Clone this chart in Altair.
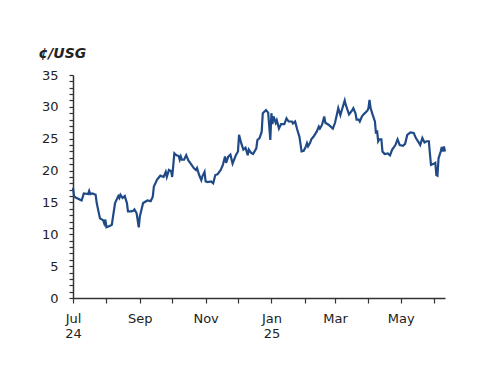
import altair as alt
import pandas as pd

dates = [
    "2024-07-01", "2024-07-02", "2024-07-03", "2024-07-09", "2024-07-11", "2024-07-15", "2024-07-16",
    "2024-07-17", "2024-07-19", "2024-07-22", "2024-07-23", "2024-07-26", "2024-07-29", "2024-07-30",
    "2024-07-31", "2024-08-01", "2024-08-04", "2024-08-06", "2024-08-09", "2024-08-12", "2024-08-13",
    "2024-08-14", "2024-08-16", "2024-08-18", "2024-08-20", "2024-08-21", "2024-08-24", "2024-08-26",
    "2024-08-27", "2024-08-29", "2024-08-31", "2024-09-01", "2024-09-04", "2024-09-08", "2024-09-11",
    "2024-09-13", "2024-09-14", "2024-09-17", "2024-09-20", "2024-09-23", "2024-09-25", "2024-09-26",
    "2024-09-28", "2024-09-30", "2024-10-01", "2024-10-03", "2024-10-05", "2024-10-07", "2024-10-08",
    "2024-10-09", "2024-10-10", "2024-10-12", "2024-10-14", "2024-10-16", "2024-10-19", "2024-10-21",
    "2024-10-23", "2024-10-24", "2024-10-26", "2024-10-28", "2024-10-29", "2024-10-31", "2024-11-01",
    "2024-11-03", "2024-11-06", "2024-11-08", "2024-11-10", "2024-11-12", "2024-11-15", "2024-11-17",
    "2024-11-19", "2024-11-20", "2024-11-22", "2024-11-24", "2024-11-26", "2024-11-29", "2024-12-01",
    "2024-12-02", "2024-12-04", "2024-12-06", "2024-12-08", "2024-12-10", "2024-12-11", "2024-12-13",
    "2024-12-15", "2024-12-18", "2024-12-19", "2024-12-21", "2024-12-23", "2024-12-24", "2024-12-27",
    "2024-12-29", "2024-12-31", "2025-01-01", "2025-01-02", "2025-01-03", "2025-01-05", "2025-01-06",
    "2025-01-08", "2025-01-10", "2025-01-13", "2025-01-15", "2025-01-17", "2025-01-20", "2025-01-21",
    "2025-01-23", "2025-01-25", "2025-01-27", "2025-01-29", "2025-01-31", "2025-02-02", "2025-02-03",
    "2025-02-04", "2025-02-06", "2025-02-07", "2025-02-09", "2025-02-12", "2025-02-14", "2025-02-15",
    "2025-02-17", "2025-02-19", "2025-02-20", "2025-02-23", "2025-02-25", "2025-02-27", "2025-03-01",
    "2025-03-03", "2025-03-04", "2025-03-06", "2025-03-07", "2025-03-10", "2025-03-11", "2025-03-14",
    "2025-03-17", "2025-03-18", "2025-03-20", "2025-03-21", "2025-03-23", "2025-03-24", "2025-03-26",
    "2025-03-28", "2025-03-31", "2025-04-01", "2025-04-02", "2025-04-03", "2025-04-05", "2025-04-07",
    "2025-04-08", "2025-04-09", "2025-04-10", "2025-04-11", "2025-04-13", "2025-04-14", "2025-04-16",
    "2025-04-19", "2025-04-21", "2025-04-23", "2025-04-26", "2025-04-28", "2025-04-30", "2025-05-03",
    "2025-05-05", "2025-05-07", "2025-05-10", "2025-05-13", "2025-05-15", "2025-05-17", "2025-05-19",
    "2025-05-21", "2025-05-23", "2025-05-25", "2025-05-27", "2025-05-28", "2025-05-29", "2025-06-01",
    "2025-06-02", "2025-06-03", "2025-06-04", "2025-06-05", "2025-06-07", "2025-06-08", "2025-06-09",
    "2025-06-10", "2025-06-11",
]

values = [
    17.3, 16.0, 15.8, 15.3, 16.4, 16.3, 16.8,
    16.3, 16.4, 16.2, 14.9, 12.5, 12.2, 11.7,
    12.3, 11.1, 11.3, 11.5, 14.9, 16.0, 15.7,
    16.2, 15.7, 16.0, 14.9, 13.6, 13.6, 13.7,
    13.9, 13.3, 11.1, 12.8, 14.9, 15.3, 15.2,
    15.9, 17.5, 18.6, 19.2, 19.0, 19.8, 19.0,
    20.1, 19.9, 19.0, 22.7, 22.4, 22.3, 21.7,
    22.2, 21.7, 21.7, 22.4, 21.6, 20.9, 20.4,
    20.1, 20.4, 19.3, 18.5, 19.1, 19.8, 18.3,
    18.2, 18.3, 18.0, 19.3, 19.4, 20.1, 20.9,
    22.2, 21.2, 22.2, 22.5, 21.1, 22.4, 23.0,
    25.6, 24.3, 23.3, 23.6, 22.4, 23.3, 22.8,
    22.6, 23.5, 24.8, 25.1, 26.1, 29.0, 29.5,
    29.1, 24.8, 29.0, 27.3, 28.5, 27.5, 27.9,
    26.6, 27.3, 27.3, 28.2, 27.7, 27.7, 27.4,
    27.7, 26.4, 25.3, 23.0, 23.1, 23.8, 24.3,
    23.8, 24.4, 24.9, 25.3, 26.1, 26.9, 26.6,
    27.2, 28.5, 27.5, 27.2, 26.9, 26.6, 27.5,
    29.0, 29.8, 28.7, 29.3, 31.0, 30.3, 28.8,
    29.5, 29.8, 29.0, 28.0, 28.0, 27.7, 28.5,
    28.9, 29.4, 29.8, 31.1, 29.8, 28.7, 27.7,
    25.8, 26.3, 24.6, 24.9, 24.9, 23.0, 22.6,
    22.7, 22.4, 23.3, 24.0, 24.9, 24.0, 23.9,
    24.2, 25.6, 26.0, 25.9, 25.1, 24.6, 24.0,
    25.1, 24.4, 24.6, 24.6, 22.7, 20.9, 21.1,
    21.2, 19.3, 19.2, 21.9, 23.0, 23.7, 23.0,
    23.8, 23.0,
]

y_ticks = list(range(0, 36))
x_domain = ["2024-07-01", "2025-06-11"]
y_title = "¢/USG"

df = pd.DataFrame({"date": dates, "value": values})

FONT = "DejaVu Sans"

chart = alt.Chart(df).mark_line(color="#1f4a87", strokeWidth=2.2).encode(
    x=alt.X(
        "date:T",
        scale=alt.Scale(type="utc", domain=x_domain, nice=False),
        axis=alt.Axis(
            title=None,
            grid=False,
            tickCount={"interval": "month", "step": 1},
            labelExpr="utcmonth(datum.value) % 2 != 0 ? '' : ((utcmonth(datum.value) == 0 || utcmonth(datum.value) == 6) ? [utcFormat(datum.value, '%b'), utcFormat(datum.value, '%y')] : utcFormat(datum.value, '%b'))",
            labelOverlap=False,
            labelFont=FONT,
            labelFontSize=13,
            labelColor="#222222",
            labelPadding=9,
            labelLineHeight=15,
            labelFlush=False,
            labelBound=False,
            tickSize=5,
            tickColor="#333333",
            domainColor="#333333",
            domainWidth=1.5,
            tickWidth=1.2,
        ),
    ),
    y=alt.Y(
        "value:Q",
        scale=alt.Scale(domain=[0, 35], nice=False),
        axis=alt.Axis(
            title=y_title,
            titleAngle=0,
            titleX=-35,
            titleY=-18,
            titleAlign="left",
            titleBaseline="alphabetic",
            titleFont=FONT,
            titleFontSize=14,
            titleFontWeight="bold",
            titleFontStyle="italic",
            titleColor="#222222",
            grid=False,
            values=y_ticks,
            labelExpr="datum.value % 5 == 0 ? datum.label : ''",
            labelOverlap=False,
            labelFont=FONT,
            labelFontSize=13,
            labelColor="#222222",
            labelPadding=11,
            labelFlush=False,
            labelBound=False,
            tickSize=4,
            tickColor="#333333",
            domainColor="#333333",
            domainWidth=1.5,
            tickWidth=1.2,
        ),
    ),
).properties(
    width=372,
    height=223,
    autosize=alt.AutoSizeParams(type="none"),
    padding={"left": 65, "top": 67, "right": 30, "bottom": 60},
).configure_view(stroke=None)

chart.save("out.html", embed_options={"renderer": "svg", "actions": False})
